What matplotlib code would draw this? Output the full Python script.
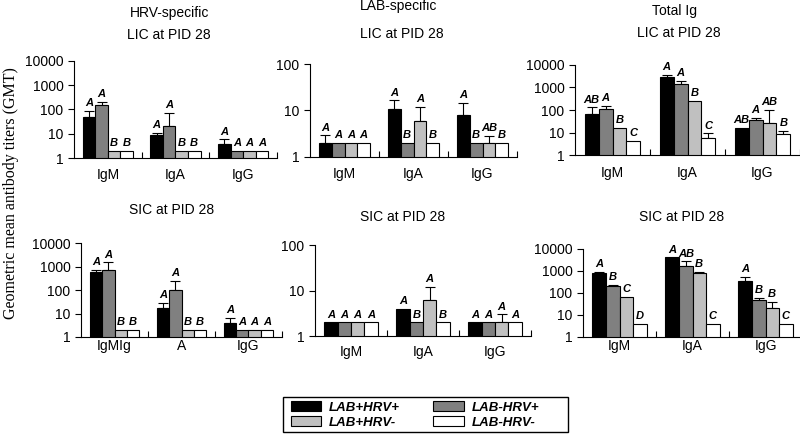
import numpy as np
import matplotlib
matplotlib.use("Agg")
import matplotlib.pyplot as plt
from matplotlib.patches import Patch, Rectangle

groups = ["LAB+HRV+", "LAB-HRV+", "LAB+HRV-", "LAB-HRV-"]
colors = ["#000000", "#808080", "#c0c0c0", "#ffffff"]

isotypes = ["IgM", "IgA", "IgG"]
isotypes_typo = ["IgMIg", "A", "IgG"]  # as printed in the original figure

# values: one row per group, one column per isotype
hrv_lic_gmt = [[50, 9, 3.8], [155, 21, 2], [2, 2, 2], [2, 2, 2]]
hrv_lic_err = [[90, 11, 5.9], [210, 70, None], [None, None, None], [None, None, None]]
hrv_lic_sig = [["A", "A", "A"], ["A", "A", "A"], ["B", "B", "A"], ["B", "B", "A"]]

lab_lic_gmt = [[2, 11, 7.9], [2, 2, 2], [2, 5.9, 2], [2, 2, 2]]
lab_lic_err = [[2.9, 16.5, 14.7], [None, None, None], [None, 12, 2.8], [None, None, None]]
lab_lic_sig = [["A", "A", "A"], ["A", "B", "B"], ["A", "A", "AB"], ["A", "B", "B"]]

tot_lic_gmt = [[66, 2830, 15.5], [107, 1380, 36], [15.5, 250, 26], [4.2, 5.9, 8.3]]
tot_lic_err = [[132, 3600, None], [150, 1950, 45], [None, None, 100], [None, 9.2, 11.7]]
tot_lic_sig = [["AB", "A", "AB"], ["A", "A", "A"], ["B", "B", "AB"], ["C", "C", "B"]]

hrv_sic_gmt = [[560, 18, 4.1], [700, 100, 2], [2, 2, 2], [2, 2, 2]]
hrv_sic_err = [[700, 29, 6.3], [1480, 247, None], [None, None, None], [None, None, None]]
hrv_sic_sig = [["A", "A", "A"], ["A", "A", "A"], ["B", "B", "A"], ["B", "B", "A"]]

lab_sic_gmt = [[2, 4, 2], [2, 2, 2], [2, 6.1, 2], [2, 2, 2]]
lab_sic_err = [[None, None, None], [None, None, None], [None, 12, 3], [None, None, None]]
lab_sic_sig = [["A", "A", "A"], ["A", "B", "A"], ["A", "A", "A"], ["A", "B", "A"]]

tot_sic_gmt = [[810, 4150, 335], [200, 1740, 46], [66, 810, 21], [4, 4, 4]]
tot_sic_err = [[890, None, 535], [240, 2740, 59], [None, 890, 41], [None, None, None]]
tot_sic_sig = [["A", "A", "A"], ["B", "AB", "B"], ["C", "B", "B"], ["D", "C", "C"]]

W, H = 800, 440


def px_axes(fig, left, right, top, bottom):
    return fig.add_axes([left / W, 1 - bottom / H, (right - left) / W, (bottom - top) / H])


def draw_panel(ax, gmt, err, sig, labels, ymax, pad):
    x = np.arange(3)
    bw = 0.185
    for i in range(4):
        xs = x + (i - 1.5) * bw
        ax.bar(xs, gmt[i], bw, color=colors[i], edgecolor="black", linewidth=0.8, zorder=2)
        for j in range(3):
            top = gmt[i][j]
            if err[i][j] is not None:
                ax.errorbar(xs[j], gmt[i][j], yerr=[[0], [err[i][j] - gmt[i][j]]],
                            fmt="none", ecolor="black", elinewidth=0.8, capsize=3.5,
                            capthick=0.8, zorder=1)
                top = err[i][j]
            ax.annotate(sig[i][j], (xs[j], top), xytext=(0, 2), textcoords="offset points",
                        ha="center", va="bottom", fontsize=8, fontweight="bold",
                        fontstyle="italic", family="Liberation Sans")
    ax.set_yscale("log")
    ax.set_ylim(1, ymax)
    ax.set_xlim(-0.5, 2.5)
    ticks = [10 ** k for k in range(int(np.log10(ymax)) + 1)]
    ax.set_yticks(ticks)
    ax.set_yticklabels([str(t) for t in ticks])
    ax.yaxis.set_minor_locator(matplotlib.ticker.NullLocator())
    ax.set_xticks(x)
    ax.set_xticklabels(labels)
    ax.set_xticks([0.5, 1.5, 2.5], minor=True)
    ax.tick_params(axis="x", which="major", length=0, pad=pad, labelsize=10)
    ax.tick_params(axis="x", which="minor", direction="in", length=4, width=0.8)
    ax.tick_params(axis="y", direction="out", length=4, width=0.8, labelsize=10)
    for s in ["top", "right"]:
        ax.spines[s].set_visible(False)
    for s in ["left", "bottom"]:
        ax.spines[s].set_linewidth(0.8)


plt.rcParams["font.family"] = ["Liberation Sans", "DejaVu Sans"]
fig = plt.figure(figsize=(8, 4.4), dpi=100)

ax1 = px_axes(fig, 74, 277, 61, 158)
draw_panel(ax1, hrv_lic_gmt, hrv_lic_err, hrv_lic_sig, isotypes, 10000, 7)
ax2 = px_axes(fig, 310, 517, 64, 157)
draw_panel(ax2, lab_lic_gmt, lab_lic_err, lab_lic_sig, isotypes, 100, 7)
ax3 = px_axes(fig, 575, 800, 65, 155)
draw_panel(ax3, tot_lic_gmt, tot_lic_err, tot_lic_sig, isotypes, 10000, 8)
ax4 = px_axes(fig, 81, 282, 243, 337)
draw_panel(ax4, hrv_sic_gmt, hrv_sic_err, hrv_sic_sig, isotypes_typo, 10000, 1.5)
ax5 = px_axes(fig, 315, 531, 245, 336)
draw_panel(ax5, lab_sic_gmt, lab_sic_err, lab_sic_sig, isotypes, 100, 6.5)
ax6 = px_axes(fig, 583, 802, 249, 337)
draw_panel(ax6, tot_sic_gmt, tot_sic_err, tot_sic_sig, isotypes, 10000, 1.5)


def ftext(x, y, s, **kw):
    fig.text(x / W, 1 - y / H, s, ha="center", va="center", fontsize=10, **kw)


ftext(170, 13, "HRV-specific")
ftext(399, 6, "LAB-specific")
ftext(674, 11, "Total Ig")
ftext(169, 35, "LIC at PID 28")
ftext(402, 34, "LIC at PID 28")
ftext(679, 33, "LIC at PID 28")
ftext(172, 210, "SIC at PID 28")
ftext(403, 217, "SIC at PID 28")
ftext(682, 217, "SIC at PID 28")

fig.text(11 / W, 1 - 193 / H, "Geometric mean antibody titers (GMT)", rotation=90,
         ha="center", va="center", fontsize=11.5, family="Liberation Serif")

# legend box drawn by hand, entries placed with fig.legend (no frame)
fig.patches.append(Rectangle((283 / W, 1 - 432 / H), 285 / W, 35 / H, transform=fig.transFigure,
                             facecolor="white", edgecolor="black", linewidth=1.0, zorder=0))
handles = [Patch(facecolor=colors[k], edgecolor="black", linewidth=0.8) for k in [0, 2, 1, 3]]
leg_labels = [groups[k] for k in [0, 2, 1, 3]]
fig.legend(handles, leg_labels, ncol=2, loc="center",
           bbox_to_anchor=(415 / W, 1 - 415 / H),
           prop={"weight": "bold", "style": "italic", "size": 9.5, "family": "Liberation Sans"},
           frameon=False, handlelength=2.3, handleheight=0.8, handletextpad=0.6,
           columnspacing=2.5, labelspacing=0.15, borderpad=0.2, borderaxespad=0)

fig.savefig("out.png", dpi=100)
